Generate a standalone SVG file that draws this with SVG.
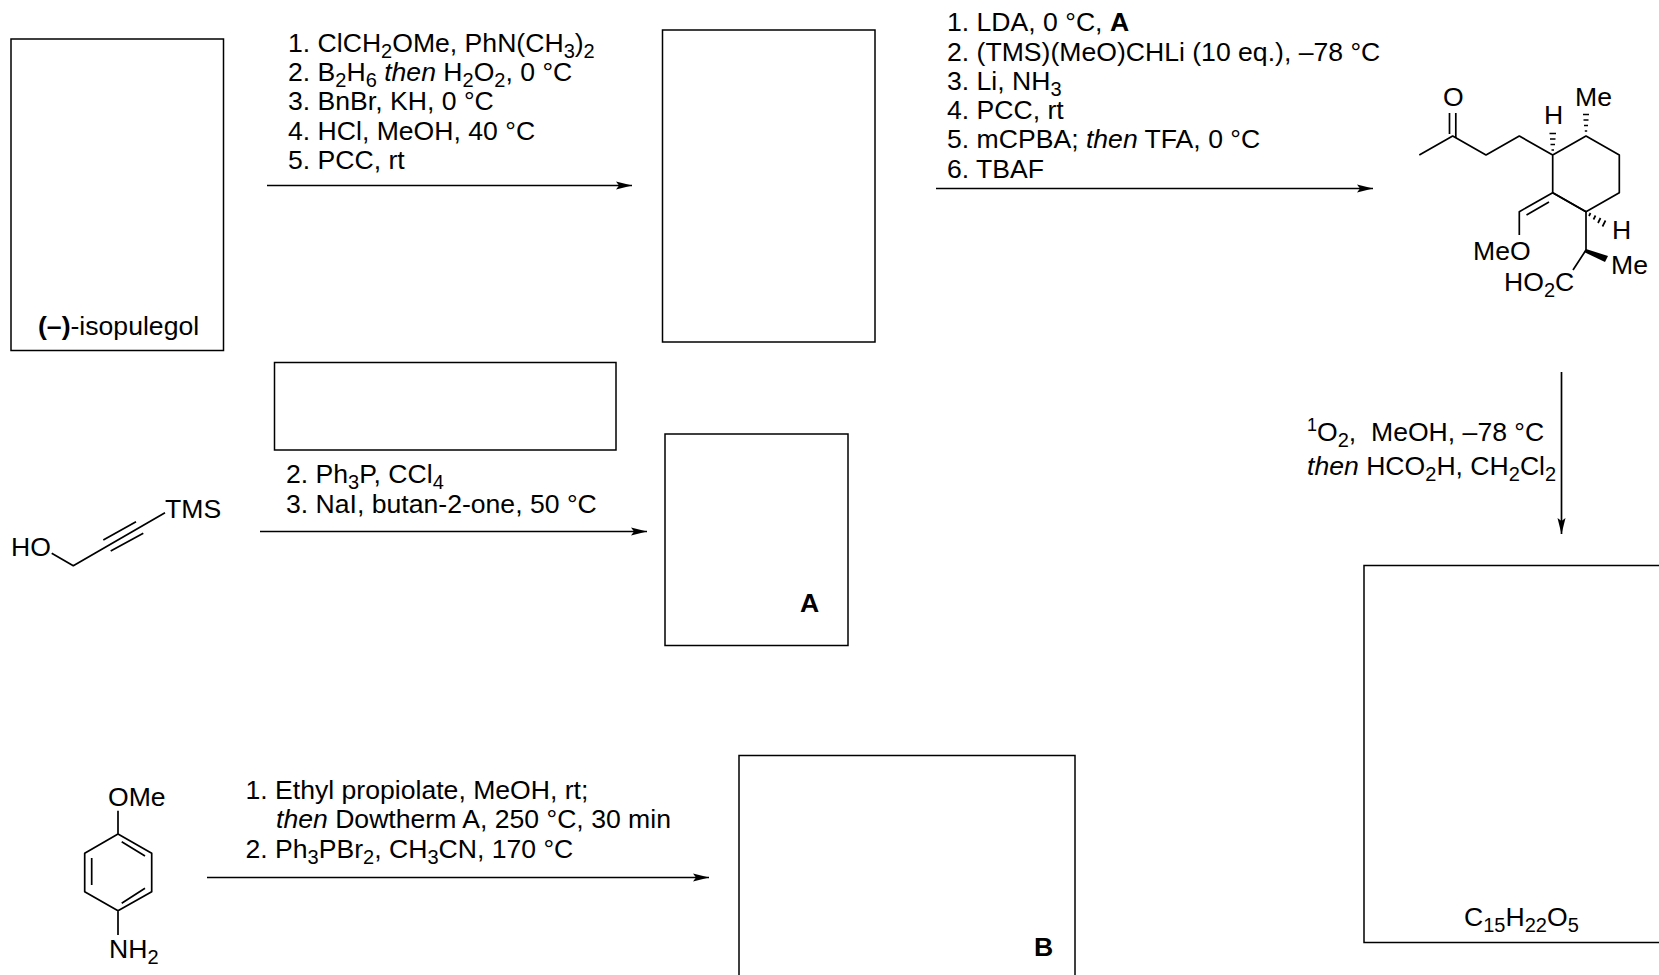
<svg xmlns="http://www.w3.org/2000/svg" width="1659" height="975" viewBox="0 0 1659 975">
<style>
text{font-family:"Liberation Sans",Arial,sans-serif;font-size:26.6px;fill:#000;white-space:pre}
.i{font-style:italic}
.b{font-weight:bold}
.s{font-size:20px;baseline-shift:-6px}
.u{font-size:18px;baseline-shift:10px}
.box{fill:#fff;stroke:#000;stroke-width:1.5}
.bd{fill:none;stroke:#000;stroke-width:1.7;stroke-linejoin:round}
.h{fill:none;stroke:#000;stroke-width:1.7}
.ar{fill:none;stroke:#000;stroke-width:1.7;marker-end:url(#ah)}
</style>
<defs>
<marker id="ah" markerUnits="userSpaceOnUse" markerWidth="18" markerHeight="10" refX="16" refY="5" orient="auto">
<path d="M0 1 L16 5 L0 9 L3 5 Z" fill="#000"/>
</marker>
</defs>
<g id="connectors">
<path class="ar" d="M267 185.5H632"/>
<path class="ar" d="M936 188.5H1373"/>
<path class="ar" d="M260 531.5H647"/>
<path class="ar" d="M207 877.5H709"/>
<path class="ar" d="M1561.5 372V534"/>
</g>
<g id="reagents-1">
<text x="288" y="52">1. ClCH<tspan class="s">2</tspan>OMe, PhN(CH<tspan class="s">3</tspan>)<tspan class="s">2</tspan></text>
<text x="288" y="81">2. B<tspan class="s">2</tspan>H<tspan class="s">6</tspan> <tspan class="i">then</tspan> H<tspan class="s">2</tspan>O<tspan class="s">2</tspan>, 0 °C</text>
<text x="288" y="110">3. BnBr, KH, 0 °C</text>
<text x="288" y="140">4. HCl, MeOH, 40 °C</text>
<text x="288" y="169">5. PCC, rt</text>
</g>
<g id="reagents-2">
<text x="947" y="31">1. LDA, 0 °C, <tspan class="b">A</tspan></text>
<text x="947" y="61">2. (TMS)(MeO)CHLi (10 eq.), –78 °C</text>
<text x="947" y="90">3. Li, NH<tspan class="s">3</tspan></text>
<text x="947" y="119">4. PCC, rt</text>
<text x="947" y="148">5. mCPBA; <tspan class="i">then</tspan> TFA, 0 °C</text>
<text x="947" y="178">6. TBAF</text>
</g>
<g id="reagents-3">
<text x="286" y="483">2. Ph<tspan class="s">3</tspan>P, CCl<tspan class="s">4</tspan></text>
<text x="286" y="513">3. NaI, butan-2-one, 50 °C</text>
</g>
<g id="reagents-4">
<text x="245.500" y="799">1. Ethyl propiolate, MeOH, rt;</text>
<text x="276" y="828"><tspan class="i">then</tspan> Dowtherm A, 250 °C, 30 min</text>
<text x="245.500" y="858">2. Ph<tspan class="s">3</tspan>PBr<tspan class="s">2</tspan>, CH<tspan class="s">3</tspan>CN, 170 °C</text>
</g>
<g id="reagents-5">
<text x="1307" y="441"><tspan class="u">1</tspan>O<tspan class="s">2</tspan>,  MeOH, –78 °C</text>
<text x="1307" y="475"><tspan class="i">then</tspan> HCO<tspan class="s">2</tspan>H, CH<tspan class="s">2</tspan>Cl<tspan class="s">2</tspan></text>
</g>
<g id="node-isopulegol">
<rect class="box" x="11" y="39" width="212.500" height="311.500"/>
<text x="38" y="335"><tspan class="b">(–)</tspan>-isopulegol</text>
</g>
<g id="node-2"><rect class="box" x="662.500" y="30" width="212.500" height="312"/></g>
<g id="node-reagent-1"><rect class="box" x="274.500" y="362.500" width="341.500" height="87.500"/></g>
<g id="node-A">
<rect class="box" x="665" y="434" width="183" height="211.500"/>
<text class="b" x="800" y="612">A</text>
</g>
<g id="node-B">
<rect class="box" x="739" y="755.500" width="336" height="225"/>
<text class="b" x="1034" y="956">B</text>
</g>
<g id="node-product">
<rect class="box" x="1364" y="565.500" width="300" height="377"/>
<text x="1464" y="926">C<tspan class="s">15</tspan>H<tspan class="s">22</tspan>O<tspan class="s">5</tspan></text>
</g>
<g id="node-acid">
<path class="bd" d="M1419.3 155L1452.7 136L1486 155L1519.3 136L1552.7 155L1586 136L1619.3 155V192.7L1586 211.7L1552.7 192.7V155"/>
<path class="bd" d="M1449.500 113V134M1455.800 113V138"/>
<path class="bd" d="M1586 211.700L1552.700 192.700L1519.300 211.700V235M1526.500 215L1549 202"/>
<path class="bd" d="M1586 211.700V250L1573 270"/>
<path d="M1586 249L1608 256L1605 262L1584 252Z"/>
<path class="h" d="M1551.500 150H1554M1550.500 144.500H1555M1550 139H1555.500M1549.500 133.500H1556"/>
<path class="h" d="M1584.800 131H1587.200M1584 125.500H1588M1583.500 120H1588.500M1583 114.500H1589"/>
<path class="h" d="M1590.500 213L1589 216M1595.500 215.500L1593.500 219.500M1600.500 218L1598 223M1605.500 220.500L1602.500 226.500"/>
<text x="1443" y="106">O</text>
<text x="1544" y="124">H</text>
<text x="1575" y="106">Me</text>
<text x="1612" y="239">H</text>
<text x="1611" y="274">Me</text>
<text x="1473" y="260">MeO</text>
<text x="1504" y="291">HO<tspan class="s">2</tspan>C</text>
</g>
<g id="node-propargyl">
<path class="bd" d="M51.700 553.300L73.300 565.700L165 512.700M103.300 540L136 521.700M110.700 551L143.300 533.300"/>
<text x="11" y="556">HO</text>
<text x="165" y="518">TMS</text>
</g>
<g id="node-anisidine">
<path class="bd" d="M118 810.700V834L151.700 853.300V891.700L118 910.700L84.700 891.700V853.300L118 834M91.700 858V885M121.700 841.700L145 856M121.700 903.300L145 888.300M118 910.700V935"/>
<text x="108" y="806">OMe</text>
<text x="109" y="958">NH<tspan class="s">2</tspan></text>
</g>
</svg>
